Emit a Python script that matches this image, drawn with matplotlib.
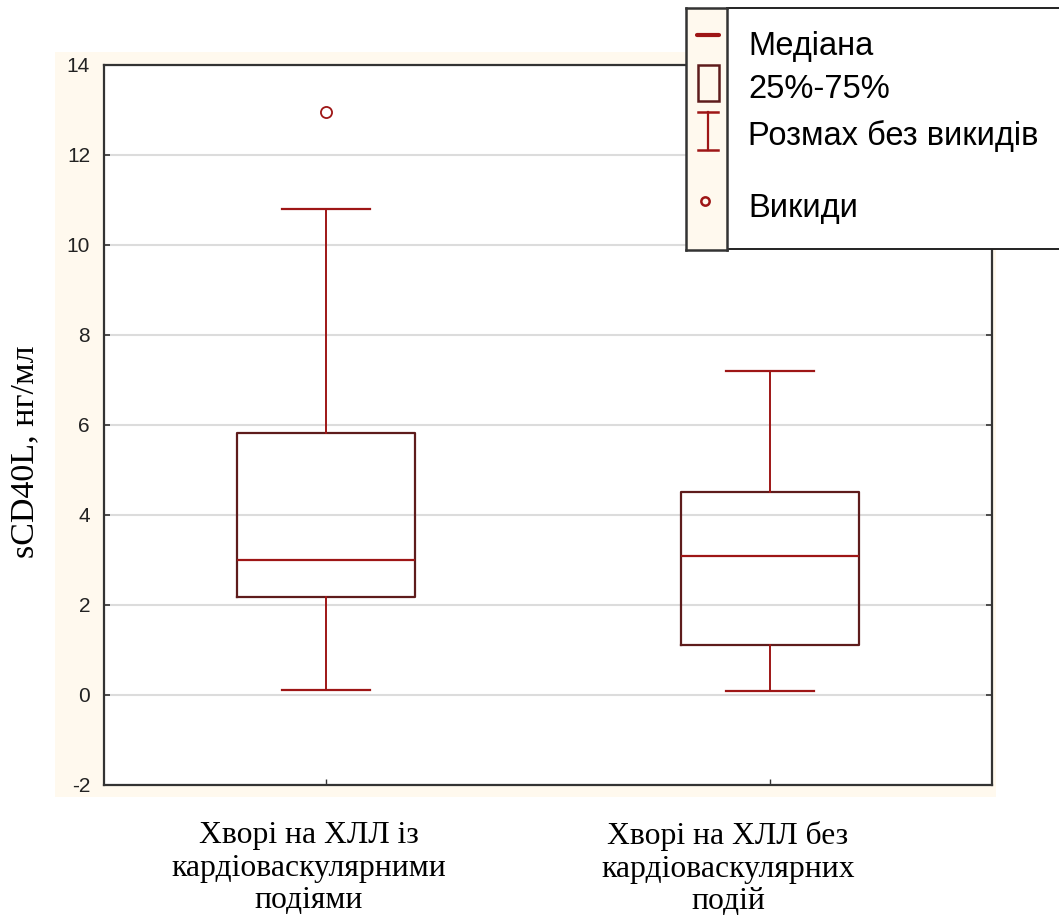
import matplotlib
matplotlib.use("Agg")
import matplotlib.pyplot as plt
from matplotlib.patches import Rectangle

plt.rcParams["axes.unicode_minus"] = False

# ── data ──────────────────────────────────────────────────────────────────────
groups = ["Хворі на ХЛЛ із\nкардіоваскулярними\nподіями",
          "Хворі на ХЛЛ без\nкардіоваскулярних\nподій"]
medians = [3.0, 3.1]
q1 = [2.18, 1.11]
q3 = [5.82, 4.51]
whisk_lo = [0.11, 0.09]
whisk_hi = [10.8, 7.2]
outliers = [[12.95], []]
yticks = [-2, 0, 2, 4, 6, 8, 10, 12, 14]
legend_labels = ["Медіана", "25%-75%", "Розмах без викидів", "Викиди"]

CREAM = "#fff9ee"
BOX_EDGE = "#5e1c1c"
RED = "#9e1616"
SPINE = "#333333"

fig = plt.figure(figsize=(10.59, 9.17), dpi=100)
W, H = 1059, 917

def px(x0, y0, x1, y1):
    # pixel box -> figure fraction rect
    return [x0 / W, 1 - y1 / H, (x1 - x0) / W, (y1 - y0) / H]

# cream panel behind the plot area
bg = fig.add_axes(px(55, 52, 996, 797), zorder=-1)
bg.set_facecolor(CREAM)
bg.set_xticks([]); bg.set_yticks([])
for s in bg.spines.values():
    s.set_visible(False)

ax = fig.add_axes(px(104, 65, 992, 785), zorder=1)
ax.set_facecolor("white")

stats = []
for i in range(len(groups)):
    stats.append(dict(med=medians[i], q1=q1[i], q3=q3[i],
                      whislo=whisk_lo[i], whishi=whisk_hi[i],
                      fliers=outliers[i]))

ax.bxp(stats, positions=[1, 2], widths=0.4, showfliers=True,
       boxprops=dict(color=BOX_EDGE, lw=1.6),
       medianprops=dict(color=RED, lw=1.6),
       whiskerprops=dict(color=RED, lw=1.4),
       capprops=dict(color=RED, lw=1.6),
       capwidths=0.2,
       flierprops=dict(marker="o", markerfacecolor="none",
                       markeredgecolor=RED, markersize=8, markeredgewidth=1.3))

ax.set_xlim(0.5, 2.5)
ax.set_ylim(-2, 14)
ax.set_yticks(yticks)
ax.set_xticks([1, 2])
ax.set_xticklabels([])
ax.yaxis.grid(True, color="#dcdcdc", lw=1.5)
ax.set_axisbelow(True)
ax.tick_params(axis="y", direction="in", length=4, width=1.2, color=SPINE,
               right=True, labelsize=15, pad=10, labelcolor="#222222")
ax.tick_params(axis="x", direction="in", length=4, width=1, color=SPINE)
for lbl in ax.get_yticklabels():
    lbl.set_fontfamily("Liberation Sans")
for s in ax.spines.values():
    s.set_color(SPINE)
    s.set_linewidth(1.6)

fig.text(25 / W, 1 - 452 / H, "sCD40L, нг/мл", rotation=90, ha="center",
         va="center", fontfamily="Liberation Serif", fontsize=24.5)

# category labels sit a little left of the box centres in the original
for xc, g in zip([309, 728], groups):
    fig.text(xc / W, 1 - 821 / H, g, ha="center", va="top", fontsize=22.8,
             fontfamily="Liberation Serif", linespacing=1.17)

# ── legend block (top right) ─────────────────────────────────────────────────
tax = fig.add_axes(px(727, 8, 1062, 249), zorder=2)
tax.set_xticks([]); tax.set_yticks([])
tax.set_facecolor("white")
for s in tax.spines.values():
    s.set_color("#222222"); s.set_linewidth(1.4)

iax = fig.add_axes(px(686, 8, 727, 250), zorder=3)
iax.set_facecolor(CREAM)
iax.set_xticks([]); iax.set_yticks([])
for s in iax.spines.values():
    s.set_color("#333333"); s.set_linewidth(1.8)
iax.set_xlim(0, 41)
iax.set_ylim(242, 0)
iax.plot([11, 33], [27, 27], color=RED, lw=3, solid_capstyle="round")
iax.add_patch(Rectangle((12, 57), 21, 36, facecolor="none",
                        edgecolor=BOX_EDGE, lw=1.8))
iax.plot([22, 22], [104, 142], color=RED, lw=1.6)
iax.plot([12, 32], [104, 104], color=RED, lw=1.8)
iax.plot([12, 32], [142, 142], color=RED, lw=1.8)
iax.plot([19], [193], marker="o", markersize=6, markerfacecolor="none",
         markeredgecolor=RED, markeredgewidth=1.8)

for yv, lab in zip([46, 90, 136, 208], legend_labels):
    tax.text(748 / W, 1 - yv / H, lab, ha="left", va="center", fontsize=23.5,
             fontfamily="Liberation Sans", color="black",
             transform=fig.transFigure)

fig.savefig("out.png", dpi=100, facecolor="white")
